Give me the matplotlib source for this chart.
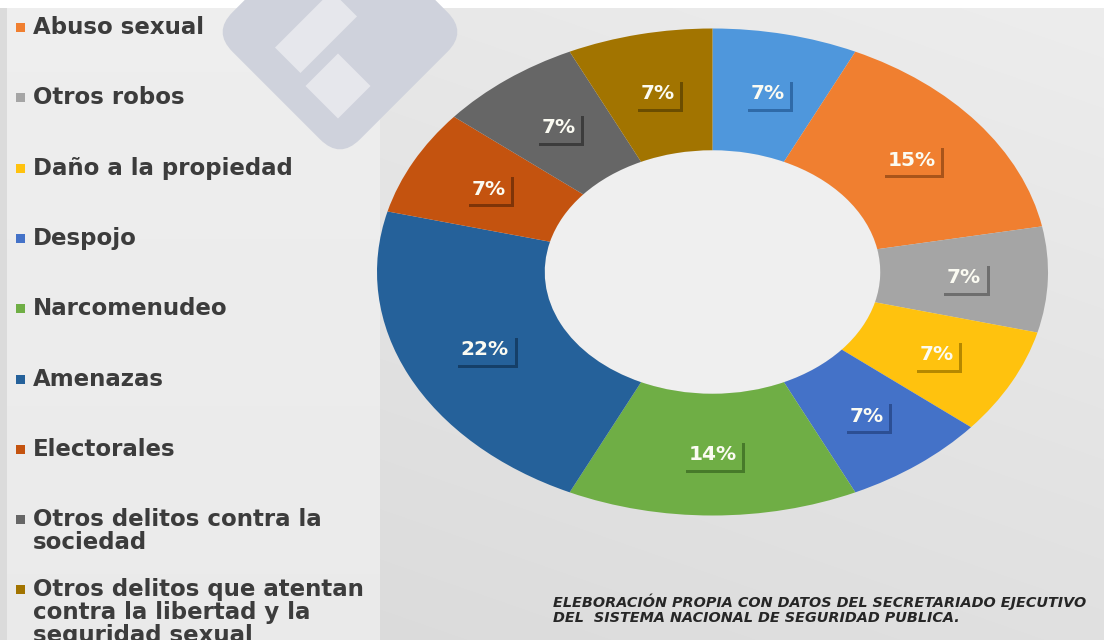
import numpy as np
import matplotlib
matplotlib.use('Agg')
import matplotlib.pyplot as plt
import matplotlib.patheffects as pe
from matplotlib.patches import FancyBboxPatch, Rectangle, Circle
from matplotlib.transforms import Affine2D

# slices clockwise from the top (first slice's legend entry is cut off above the image)
values = [7, 15, 7, 7, 7, 14, 22, 7, 7, 7]
colors = ['#4f97dc', '#f07f30', '#a5a5a5', '#ffc20e', '#4472c8',
          '#6fae45', '#25619a', '#c4530f', '#666666', '#a27400']
shadow_colors = ['#2f6aa8', '#a8541a', '#6e6e6e', '#b58800', '#2c4f94',
                 '#477a2a', '#153f68', '#7e3408', '#3c3c3c', '#6b4d00']
legend_labels = ['Abuso sexual', 'Otros robos', 'Daño a la propiedad', 'Despojo',
                 'Narcomenudeo', 'Amenazas', 'Electorales',
                 'Otros delitos contra la\nsociedad',
                 'Otros delitos que atentan\ncontra la libertad y la\nseguridad sexual']
note = ('ELEBORACIÓN PROPIA CON DATOS DEL SECRETARIADO EJECUTIVO\n'
        'DEL  SISTEMA NACIONAL DE SEGURIDAD PUBLICA.')

W, H = 1104, 640
fig = plt.figure(figsize=(W / 100, H / 100), dpi=100)

# background: light left panel, grey gradient on the right, watermark
bg = fig.add_axes([0, 0, 1, 1])
bg.set_xlim(0, W)
bg.set_ylim(H, 0)
bg.axis('off')
yy, xx = np.mgrid[0:H, 0:W]
shade = 0.90 - 0.05 * (yy / H) + 0.03 * (xx / W)
shade[:, :380] = 0.935 - 0.015 * (yy[:, :380] / H)
shade[:, :7] = 0.86
shade[:8, :] = 1.0
bg.imshow(np.dstack([shade] * 3), extent=(0, W, H, 0), aspect='auto', zorder=0)

rot = Affine2D().rotate_deg_around(340, 32, 45)
mark = FancyBboxPatch((250, -58), 180, 180, boxstyle='round,pad=0,rounding_size=28',
                      fc='#cfd2dc', ec='none', zorder=1)
mark.set_transform(rot + bg.transData)
bg.add_patch(mark)
for (cx, cy, w, h) in [(316, 32, 80, 36), (338, 86, 46, 46)]:
    sq = Rectangle((cx - w / 2, cy - h / 2), w, h, fc='#e6e7ec', ec='none', zorder=2)
    sq.set_transform(Affine2D().rotate_deg_around(cx, cy, -45) + bg.transData)
    bg.add_patch(sq)

# legend drawn by hand (Excel spaces entries evenly)
for i, (lab, col) in enumerate(zip(legend_labels, colors[1:])):
    y = 27 + 70.3 * i
    bg.add_patch(Rectangle((16, y - 4), 9, 9, fc=col, ec='none', zorder=3))
    bg.text(33, y - 11, lab, fontsize=16.5, fontweight='bold', color='#3c3c3c',
            va='top', ha='left', linespacing=1.0, zorder=3)

bg.text(553, 594, note, fontsize=10.4, fontweight='bold', style='italic',
        color='#262626', va='top', ha='left', linespacing=1.0, zorder=3)

# donut, stretched horizontally like the reference
ax = fig.add_axes([377 / W, 1 - 515.5 / H, 671 / W, 487 / H])
ax.patch.set_alpha(0)
ax.add_patch(Circle((0, 0), 0.5, fc='#efefef', ec='none', zorder=0))
wedges, _ = ax.pie(values, colors=colors, startangle=90, counterclock=False,
                   radius=1, wedgeprops=dict(width=0.5, edgecolor='none'))
ax.set_aspect('auto')
ax.set_xlim(-1, 1)
ax.set_ylim(-1, 1)
ax.axis('off')

for w, v, c, sc in zip(wedges, values, colors, shadow_colors):
    ang = np.deg2rad((w.theta1 + w.theta2) / 2)
    x, y = 0.75 * np.cos(ang), 0.75 * np.sin(ang)
    t = ax.text(x, y, '%d%%' % v, ha='center', va='center', fontsize=14.5,
                fontweight='bold', color='#fbfbf2', zorder=5,
                bbox=dict(boxstyle='square,pad=0.28', fc=c, ec='none'))
    t.get_bbox_patch().set_path_effects([
        pe.SimplePatchShadow(offset=(2.2, -2.2), shadow_rgbFace=sc, alpha=1),
        pe.Normal()])

fig.savefig('out.png', dpi=100)
